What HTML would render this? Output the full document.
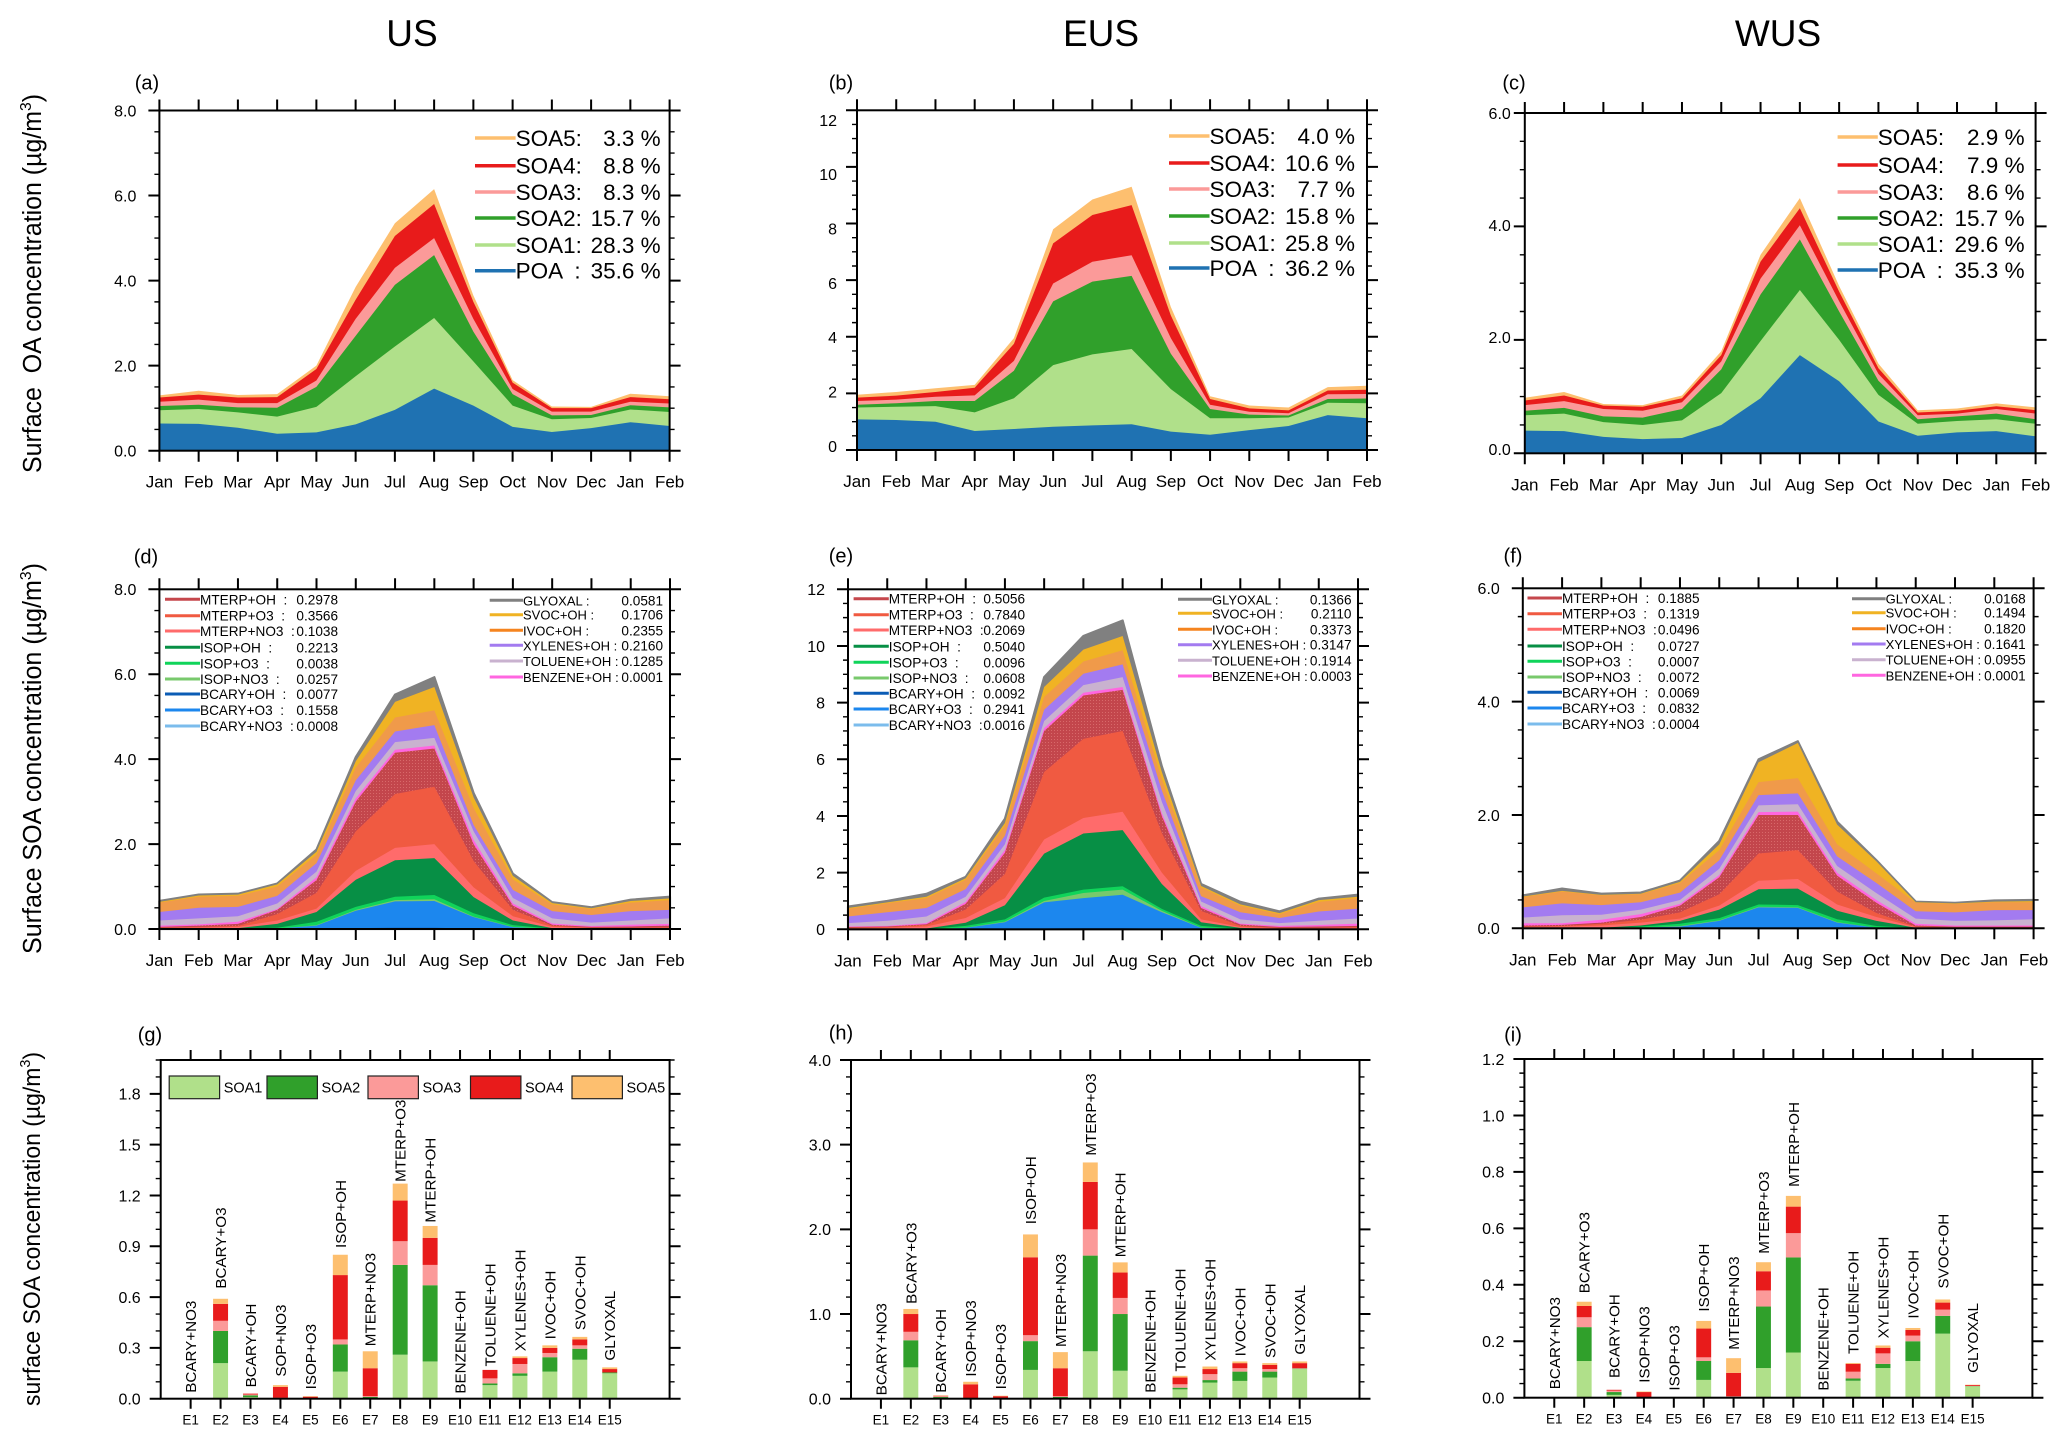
<!DOCTYPE html>
<html lang="en">
<head>
<meta charset="utf-8">
<title>Surface OA and SOA concentration by region</title>
<style>
html,body{margin:0;padding:0;background:#fff;}
svg{display:block;}
text{font-family:"Liberation Sans",Arial,sans-serif;fill:#000;white-space:pre;}
</style>
</head>
<body>
<svg id="figure" xmlns="http://www.w3.org/2000/svg" width="2067" height="1443" viewBox="0 0 2067 1443">
<defs>
<pattern id="mterp-oh-dots" width="3" height="3" patternUnits="userSpaceOnUse">
<rect x="0" y="0" width="3" height="3" fill="#c3464c"/>
<rect x="1" y="1" width="1" height="1" fill="#d8696a"/>
</pattern>
</defs>
<rect x="0" y="0" width="2067" height="1443" fill="#ffffff"/>
<text x="412" y="46" font-size="37" text-anchor="middle">US</text>
<text x="1101" y="46" font-size="37" text-anchor="middle">EUS</text>
<text x="1778" y="46" font-size="37" text-anchor="middle">WUS</text>
<text transform="translate(41,283.5) rotate(-90)" font-size="25.5" text-anchor="middle" textLength="379" lengthAdjust="spacingAndGlyphs">Surface  OA concentration (µg/m<tspan font-size="16" dy="-10">3</tspan><tspan dy="10">)</tspan></text>
<text transform="translate(41,758.5) rotate(-90)" font-size="25.5" text-anchor="middle" textLength="391" lengthAdjust="spacingAndGlyphs">Surface SOA concentration (µg/m<tspan font-size="16" dy="-10">3</tspan><tspan dy="10">)</tspan></text>
<text transform="translate(40,1229) rotate(-90)" font-size="24" text-anchor="middle" textLength="354" lengthAdjust="spacingAndGlyphs">surface SOA concentration (µg/m<tspan font-size="15" dy="-10">3</tspan><tspan dy="10">)</tspan></text>
</svg>
<script>
/* ---------- shared categories ---------- */
const months = ['Jan','Feb','Mar','Apr','May','Jun','Jul','Aug','Sep','Oct','Nov','Dec','Jan','Feb'];
const experiments = ['E1','E2','E3','E4','E5','E6','E7','E8','E9','E10','E11','E12','E13','E14','E15'];

/* ---------- tick labels ---------- */
const aYTicks = ['0.0','2.0','4.0','6.0','8.0'];
const bYTicks = ['0','2','4','6','8','10','12'];
const cYTicks = ['0.0','2.0','4.0','6.0'];
const dYTicks = ['0.0','2.0','4.0','6.0','8.0'];
const eYTicks = ['0','2','4','6','8','10','12'];
const fYTicks = ['0.0','2.0','4.0','6.0'];
const gYTicks = ['0.0','0.3','0.6','0.9','1.2','1.5','1.8'];
const hYTicks = ['0.0','1.0','2.0','3.0','4.0'];
const iYTicks = ['0.0','0.2','0.4','0.6','0.8','1.0','1.2'];

/* ---------- panels a-c: upper boundary of each stacked layer ---------- */
const aPOA  = [0.64,0.63,0.54,0.40,0.43,0.62,0.96,1.46,1.06,0.56,0.44,0.53,0.67,0.58];
const aSOA1 = [0.95,0.98,0.90,0.80,1.03,1.75,2.45,3.12,2.10,1.06,0.74,0.77,0.97,0.91];
const aSOA2 = [1.05,1.08,1.02,1.01,1.50,2.70,3.90,4.60,2.80,1.33,0.83,0.84,1.07,1.02];
const aSOA3 = [1.15,1.20,1.12,1.12,1.65,3.10,4.30,5.00,3.10,1.45,0.92,0.92,1.15,1.11];
const aSOA4 = [1.25,1.32,1.25,1.26,1.92,3.55,5.05,5.80,3.50,1.60,1.00,1.00,1.26,1.21];
const aSOA5 = [1.30,1.41,1.31,1.33,2.00,3.85,5.35,6.15,3.65,1.66,1.04,1.03,1.34,1.28];

const bPOA  = [1.08,1.06,1.00,0.67,0.74,0.82,0.87,0.91,0.65,0.54,0.70,0.85,1.23,1.12];
const bSOA1 = [1.50,1.53,1.55,1.33,1.83,3.00,3.38,3.57,2.15,1.12,1.12,1.15,1.67,1.65];
const bSOA2 = [1.60,1.65,1.73,1.73,2.80,5.25,5.95,6.15,3.40,1.45,1.25,1.22,1.80,1.82];
const bSOA3 = [1.73,1.78,1.88,1.93,3.15,5.88,6.65,6.88,3.95,1.60,1.35,1.30,1.97,1.98];
const bSOA4 = [1.85,1.92,2.05,2.20,3.75,7.30,8.30,8.65,4.75,1.80,1.47,1.40,2.10,2.13];
const bSOA5 = [1.95,2.05,2.18,2.30,3.95,7.80,8.85,9.30,5.05,1.90,1.57,1.50,2.22,2.27];

const cPOA  = [0.40,0.39,0.29,0.25,0.27,0.50,0.97,1.73,1.27,0.56,0.31,0.37,0.39,0.30];
const cSOA1 = [0.67,0.70,0.55,0.50,0.58,1.06,1.98,2.88,2.00,1.03,0.52,0.57,0.60,0.52];
const cSOA2 = [0.75,0.80,0.65,0.63,0.78,1.48,2.80,3.77,2.50,1.28,0.60,0.65,0.70,0.60];
const cSOA3 = [0.85,0.92,0.78,0.75,0.90,1.62,3.08,4.02,2.68,1.40,0.67,0.70,0.78,0.70];
const cSOA4 = [0.93,1.02,0.84,0.82,0.97,1.73,3.38,4.32,2.85,1.50,0.72,0.75,0.83,0.76];
const cSOA5 = [0.98,1.08,0.87,0.85,1.02,1.80,3.50,4.50,2.95,1.58,0.76,0.79,0.88,0.81];

/* ---------- legend text, panels a-c ---------- */
const oaLegendNames = ['SOA5:','SOA4:','SOA3:','SOA2:','SOA1:','POA  :'];
const aLegendPct = ['3.3','8.8','8.3','15.7','28.3','35.6'];
const bLegendPct = ['4.0','10.6','7.7','15.8','25.8','36.2'];
const cLegendPct = ['2.9','7.9','8.6','15.7','29.6','35.3'];

/* ---------- panels d-f: upper boundary of each stacked layer ---------- */
const dBcaryNo3 = [0,0,0,0,0,0,0,0,0,0,0,0,0,0];
const dBcaryOh  = [0,0,0,0.005,0.01,0.02,0.03,0.03,0.01,0.005,0,0,0,0];
const dBcaryO3  = [0,0,0,0.01,0.08,0.43,0.65,0.66,0.28,0.04,0,0,0,0];
const dIsopNo3  = [0,0,0,0.01,0.09,0.45,0.68,0.70,0.29,0.05,0,0,0,0];
const dIsopO3   = [0,0,0.005,0.03,0.17,0.52,0.76,0.80,0.37,0.09,0.01,0,0,0];
const dIsopOh   = [0,0.005,0.02,0.12,0.40,1.16,1.62,1.67,0.75,0.20,0.02,0.005,0.005,0.005];
const dMtNo3    = [0.02,0.03,0.05,0.20,0.48,1.37,1.91,2.00,0.98,0.30,0.05,0.02,0.02,0.02];
const dMtO3     = [0.03,0.05,0.07,0.35,0.85,2.30,3.18,3.35,1.60,0.45,0.08,0.03,0.03,0.04];
const dMtOh     = [0.05,0.08,0.12,0.45,1.15,3.00,4.15,4.25,2.00,0.55,0.10,0.05,0.06,0.08];
const dBenzene  = [0.08,0.11,0.17,0.47,1.22,3.08,4.22,4.32,2.10,0.60,0.13,0.07,0.10,0.12];
const dToluene  = [0.20,0.25,0.30,0.60,1.35,3.25,4.40,4.50,2.30,0.73,0.25,0.15,0.20,0.25];
const dXylenes  = [0.40,0.50,0.52,0.78,1.55,3.50,4.65,4.80,2.45,0.92,0.42,0.33,0.42,0.45];
const dIvoc     = [0.62,0.76,0.78,1.00,1.75,3.80,4.98,5.15,2.85,1.17,0.58,0.47,0.62,0.68];
const dSvoc     = [0.64,0.79,0.81,1.05,1.82,3.95,5.35,5.70,3.10,1.25,0.61,0.49,0.66,0.72];
const dGlyoxal  = [0.66,0.81,0.83,1.07,1.87,4.05,5.52,5.93,3.20,1.30,0.63,0.51,0.69,0.76];

const eBcaryNo3 = [0,0,0,0,0,0,0,0,0,0,0,0,0,0];
const eBcaryOh  = [0,0,0,0.005,0.01,0.03,0.04,0.04,0.02,0.005,0,0,0,0];
const eBcaryO3  = [0,0,0,0.05,0.25,0.95,1.10,1.22,0.60,0.05,0,0,0,0];
const eIsopNo3  = [0,0,0,0.06,0.27,1.00,1.28,1.40,0.65,0.06,0,0,0,0];
const eIsopO3   = [0,0,0.01,0.12,0.35,1.12,1.40,1.52,0.72,0.12,0.02,0,0,0];
const eIsopOh   = [0,0.01,0.03,0.23,0.85,2.67,3.38,3.50,1.60,0.25,0.05,0.01,0,0.01];
const eMtNo3    = [0.03,0.05,0.10,0.40,1.10,3.17,3.93,4.15,2.00,0.35,0.08,0.03,0.03,0.05];
const eMtO3     = [0.05,0.08,0.15,0.70,1.95,5.55,6.72,7.00,3.40,0.65,0.12,0.05,0.05,0.08];
const eMtOh     = [0.08,0.10,0.18,0.90,2.70,7.00,8.25,8.45,4.00,0.75,0.17,0.08,0.10,0.12];
const eBenzene  = [0.10,0.12,0.22,0.97,2.80,7.10,8.35,8.55,4.10,0.82,0.20,0.12,0.15,0.20];
const eToluene  = [0.22,0.30,0.45,1.15,3.00,7.35,8.62,8.90,4.50,0.98,0.35,0.22,0.30,0.38];
const eXylenes  = [0.45,0.60,0.75,1.42,3.30,7.75,9.02,9.35,4.90,1.17,0.60,0.40,0.63,0.73];
const eIvoc     = [0.72,0.92,1.10,1.75,3.65,8.20,9.45,9.85,5.30,1.48,0.83,0.53,0.97,1.10];
const eSvoc     = [0.75,0.95,1.15,1.80,3.75,8.55,9.87,10.35,5.55,1.53,0.88,0.57,1.03,1.15];
const eGlyoxal  = [0.80,1.00,1.25,1.85,3.90,8.90,10.35,10.90,5.75,1.60,0.97,0.63,1.08,1.22];

const fBcaryNo3 = [0,0,0,0,0,0,0,0,0,0,0,0,0,0];
const fBcaryOh  = [0,0,0,0.002,0.005,0.01,0.015,0.015,0.005,0.002,0,0,0,0];
const fBcaryO3  = [0,0,0,0.01,0.03,0.13,0.37,0.36,0.10,0.01,0,0,0,0];
const fIsopNo3  = [0,0,0,0.01,0.04,0.14,0.38,0.37,0.11,0.01,0,0,0,0];
const fIsopO3   = [0,0,0.005,0.03,0.08,0.18,0.42,0.41,0.16,0.04,0.005,0,0,0];
const fIsopOh   = [0,0.005,0.01,0.05,0.13,0.33,0.69,0.70,0.31,0.13,0.01,0,0,0];
const fMtNo3    = [0.02,0.03,0.05,0.10,0.17,0.40,0.84,0.87,0.42,0.20,0.02,0.01,0.01,0.01];
const fMtO3     = [0.03,0.04,0.08,0.15,0.28,0.60,1.32,1.38,0.65,0.27,0.03,0.02,0.02,0.02];
const fMtOh     = [0.05,0.06,0.10,0.20,0.40,0.90,2.00,2.00,0.93,0.45,0.05,0.03,0.03,0.03];
const fBenzene  = [0.09,0.09,0.15,0.25,0.43,0.94,2.05,2.06,0.98,0.50,0.08,0.05,0.05,0.05];
const fToluene  = [0.19,0.23,0.24,0.33,0.50,1.05,2.17,2.19,1.10,0.62,0.17,0.13,0.14,0.16];
const fXylenes  = [0.37,0.44,0.41,0.46,0.63,1.20,2.35,2.38,1.27,0.80,0.30,0.28,0.32,0.32];
const fIvoc     = [0.55,0.65,0.58,0.60,0.80,1.38,2.58,2.65,1.48,0.97,0.45,0.43,0.46,0.46];
const fSvoc     = [0.56,0.66,0.59,0.61,0.82,1.48,2.93,3.27,1.83,1.18,0.46,0.44,0.47,0.48];
const fGlyoxal  = [0.58,0.70,0.61,0.63,0.84,1.54,2.98,3.30,1.88,1.20,0.47,0.45,0.49,0.50];

/* ---------- legend text, panels d-f ---------- */
const soaLeftNames  = ['MTERP+OH  :','MTERP+O3  :','MTERP+NO3  :','ISOP+OH  :','ISOP+O3  :','ISOP+NO3  :','BCARY+OH  :','BCARY+O3  :','BCARY+NO3  :'];
const soaRightNames = ['GLYOXAL :','SVOC+OH :','IVOC+OH :','XYLENES+OH :','TOLUENE+OH :','BENZENE+OH :'];
const dLeftValues  = ['0.2978','0.3566','0.1038','0.2213','0.0038','0.0257','0.0077','0.1558','0.0008'];
const dRightValues = ['0.0581','0.1706','0.2355','0.2160','0.1285','0.0001'];
const eLeftValues  = ['0.5056','0.7840','0.2069','0.5040','0.0096','0.0608','0.0092','0.2941','0.0016'];
const eRightValues = ['0.1366','0.2110','0.3373','0.3147','0.1914','0.0003'];
const fLeftValues  = ['0.1885','0.1319','0.0496','0.0727','0.0007','0.0072','0.0069','0.0832','0.0004'];
const fRightValues = ['0.0168','0.1494','0.1820','0.1641','0.0955','0.0001'];

/* ---------- panels g-i: upper boundary of each stacked bar segment ---------- */
const gSOA1 = [0,0.21,0.01,0,0,0.16,0,0.26,0.22,0,0.08,0.135,0.16,0.23,0.15];
const gSOA2 = [0,0.40,0.02,0,0,0.32,0.01,0.79,0.67,0,0.09,0.15,0.245,0.295,0.155];
const gSOA3 = [0,0.46,0.025,0.005,0.002,0.35,0.015,0.93,0.79,0,0.12,0.205,0.27,0.315,0.155];
const gSOA4 = [0,0.56,0.03,0.07,0.012,0.73,0.18,1.17,0.95,0,0.17,0.24,0.30,0.35,0.175];
const gSOA5 = [0,0.59,0.03,0.08,0.015,0.85,0.28,1.27,1.02,0,0.17,0.25,0.315,0.365,0.185];

const hSOA1 = [0,0.37,0.01,0,0,0.34,0,0.56,0.33,0,0.11,0.19,0.21,0.25,0.35];
const hSOA2 = [0,0.69,0.02,0,0,0.68,0.02,1.69,1.00,0,0.13,0.22,0.32,0.32,0.355];
const hSOA3 = [0,0.79,0.03,0.005,0.005,0.75,0.03,2.00,1.19,0,0.17,0.29,0.36,0.35,0.36];
const hSOA4 = [0,1.00,0.035,0.17,0.03,1.67,0.36,2.56,1.49,0,0.25,0.35,0.42,0.40,0.42];
const hSOA5 = [0,1.06,0.04,0.20,0.035,1.94,0.55,2.79,1.61,0,0.27,0.38,0.44,0.42,0.44];

const iSOA1 = [0,0.13,0.01,0,0,0.063,0,0.105,0.16,0,0.06,0.105,0.13,0.227,0.04];
const iSOA2 = [0,0.25,0.02,0,0,0.13,0.003,0.323,0.497,0,0.068,0.12,0.20,0.29,0.041];
const iSOA3 = [0,0.285,0.025,0.002,0,0.143,0.005,0.38,0.583,0,0.092,0.157,0.22,0.312,0.042];
const iSOA4 = [0,0.325,0.028,0.02,0.001,0.245,0.088,0.448,0.677,0,0.12,0.177,0.24,0.337,0.045];
const iSOA5 = [0,0.34,0.028,0.022,0.002,0.272,0.14,0.48,0.715,0,0.123,0.185,0.247,0.348,0.046];

/* ---------- bar annotations: names and the axis value where each starts ---------- */
const gBarNames = ['BCARY+NO3','BCARY+O3','BCARY+OH','SOP+NO3','ISOP+O3','ISOP+OH','MTERP+NO3','MTERP+O3','MTERP+OH','BENZENE+OH','TOLUENE+OH','XYLENES+OH','IVOC+OH','SVOC+OH','GLYOXAL'];
const hBarNames = ['BCARY+NO3','BCARY+O3','BCARY+OH','ISOP+NO3','ISOP+O3','ISOP+OH','MTERP+NO3','MTERP+O3','MTERP+OH','BENZENE+OH','TOLUENE+OH','XYLENES+OH','IVOC+OH','SVOC+OH','GLYOXAL'];
const iBarNames = ['BCARY+NO3','BCARY+O3','BCARY+OH','ISOP+NO3','ISOP+O3','ISOP+OH','MTERP+NO3','MTERP+O3','MTERP+OH','BENZENE+OH','TOLUENE+OH','XYLENES+OH','IVOC+OH','SVOC+OH','GLYOXAL'];
const gNameBase = [0.035,0.65,0.067,0.13,0.055,0.89,0.31,1.28,1.04,0.03,0.19,0.28,0.35,0.405,0.225];
const hNameBase = [0.04,1.12,0.07,0.26,0.11,2.06,0.61,2.87,1.67,0.07,0.32,0.45,0.50,0.48,0.52];
const iNameBase = [0.03,0.37,0.07,0.053,0.025,0.305,0.17,0.51,0.747,0.025,0.155,0.21,0.28,0.387,0.088];

/* ---------- colours ---------- */
const OA_COL = {POA:'#1f72b2',SOA1:'#b0e08a',SOA2:'#30a02b',SOA3:'#fb9a99',SOA4:'#e81b1b',SOA5:'#fdbf6f'};
const SOA_COL = {
  'MTERP+OH':'#c5474c','MTERP+O3':'#f05a41','MTERP+NO3':'#ff6b6b','ISOP+OH':'#078f45','ISOP+O3':'#10d45a','ISOP+NO3':'#78c96c',
  'BCARY+OH':'#0b5cb5','BCARY+O3':'#1c87ee','BCARY+NO3':'#7bbcec','GLYOXAL':'#808080','SVOC+OH':'#f0b323','IVOC+OH':'#f09a4a',
  'XYLENES+OH':'#a37bf0','TOLUENE+OH':'#c9b2cf','BENZENE+OH':'#ff66e0'
};
const SOA_LINE_IVOC = '#f5841f';

const svg = document.getElementById('figure');
const NS = 'http://www.w3.org/2000/svg';

function mk(parent, tag, attrs, text) {
  const n = document.createElementNS(NS, tag);
  for (const k in attrs) n.setAttribute(k, attrs[k]);
  if (text !== undefined) n.textContent = text;
  parent.appendChild(n);
  return n;
}

/* axis functions */
function xMonth(p, i) { return p.left + i * (p.right - p.left) / (months.length - 1); }
function xCat(p, i) { return p.left + (i + 1) * (p.right - p.left) / 17; }
function yVal(p, v) { return p.bottom - v / p.ymax * (p.bottom - p.top); }

function drawAxes(g, p, xPositions, xLabels, xFont, xLabelOffset, tickLen) {
  let pathMajor = '';
  let pathMinor = '';
  const nMinor = Math.round(p.ymax / p.minor);
  const majorVals = p.yTicks.map(Number);
  for (let k = 0; k <= nMinor; k++) {
    const v = k * p.minor;
    const isMajor = majorVals.some(function (m) { return Math.abs(m - v) < 1e-6; });
    const y = yVal(p, v);
    const lenL = isMajor ? 11 : 5;
    const lenR = isMajor ? 11 : 5;
    const seg = 'M' + (p.left - lenL) + ' ' + y + 'H' + p.left + 'M' + p.right + ' ' + y + 'H' + (p.right + lenR);
    if (isMajor) pathMajor += seg; else pathMinor += seg;
  }
  xPositions.forEach(function (x) {
    pathMajor += 'M' + x + ' ' + (p.top - tickLen) + 'V' + p.top + 'M' + x + ' ' + p.bottom + 'V' + (p.bottom + tickLen);
  });
  const frame = mk(g, 'rect', {x: p.left, y: p.top, width: p.right - p.left, height: p.bottom - p.top, fill: 'none', stroke: '#000', 'stroke-width': 2});
  
  
  const major = mk(g, 'path', {d: pathMajor, fill: 'none', stroke: '#000', 'stroke-width': 2});
  
  
  const minor = mk(g, 'path', {d: pathMinor, fill: 'none', stroke: '#000', 'stroke-width': 1.4});
  
  

  xLabels.forEach(function (label, i) {
    const t = mk(g, 'text', {x: xPositions[i], y: p.bottom + xLabelOffset, 'font-size': xFont, 'text-anchor': 'middle'}, label);
    
    
  });
  p.yTicks.forEach(function (label, i) {
    let yPos = yVal(p, Number(label));
    if (p.labelSpan) {
      yPos = p.labelSpan[1] + (p.labelSpan[0] - p.labelSpan[1]) * i / (p.yTicks.length - 1);
    }
    const t = mk(g, 'text', {x: p.left - p.labelGap, y: yPos + 5.8, 'font-size': p.yFont || 16, 'text-anchor': 'end'}, label);
    
    
  });
  const tag = mk(g, 'text', {x: p.tagX, y: p.tagY + 6.5, 'font-size': 20, 'text-anchor': 'middle'}, '(' + p.id + ')');
  
  
}

function drawAreas(g, p, layers) {
  /* layers run bottom to top; painted top first so lower layers overlay them */
  for (let s = layers.length - 1; s >= 0; s--) {
    const layer = layers[s];
    let pts = xMonth(p, 0) + ',' + yVal(p, 0);
    layer.values.forEach(function (v, i) { pts += ' ' + xMonth(p, i) + ',' + yVal(p, v); });
    pts += ' ' + xMonth(p, months.length - 1) + ',' + yVal(p, 0);
    const poly = mk(g, 'polygon', {points: pts, fill: layer.color});
    if (layer.stroke) {
      poly.setAttribute('stroke', layer.stroke);
      poly.setAttribute('stroke-width', 2.2);
      poly.setAttribute('stroke-linejoin', 'round');
    }
    
    
  }
}

function monthPanel(p, layers) {
  const g = mk(svg, 'g', {});
  
  
  drawAreas(g, p, layers);
  const xs = months.map(function (m, i) { return xMonth(p, i); });
  drawAxes(g, p, xs, months, 17, 37, 11);
  return g;
}

function oaLegend(g, p, pct) {
  const keys = ['SOA5','SOA4','SOA3','SOA2','SOA1','POA'];
  keys.forEach(function (key, i) {
    const y = p.legend.rows[i];
    const line = mk(g, 'line', {x1: p.legend.x0, x2: p.legend.x1, y1: y, y2: y, stroke: OA_COL[key], 'stroke-width': 3.5});
    
    
    const name = mk(g, 'text', {x: p.legend.x1, y: y + 8, 'font-size': 22.5}, oaLegendNames[i]);
    
    
    const val = mk(g, 'text', {x: p.legend.end, y: y + 8, 'font-size': 22.5, 'text-anchor': 'end'}, pct[i] + ' %');
    
    
  });
}

function soaLegend(g, spec, names, values) {
  names.forEach(function (label, i) {
    const key = label.replace(/ +:/, '');
    const y = spec.rows[i];
    const line = mk(g, 'line', {x1: spec.x0, x2: spec.x1, y1: y, y2: y, stroke: key === 'IVOC+OH' ? SOA_LINE_IVOC : SOA_COL[key], 'stroke-width': 3});
    
    
    const name = mk(g, 'text', {x: spec.x1, y: y + 5, 'font-size': spec.font}, label);
    
    
    const val = mk(g, 'text', {x: spec.end, y: y + 5, 'font-size': 13.6, 'text-anchor': 'end'}, values[i]);
    
    
  });
}

function barPanel(p, series, barNames, nameBase) {
  const g = mk(svg, 'g', {});
  
  
  const step = (p.right - p.left) / 17;
  const w = step * 0.5;
  const keys = ['SOA1','SOA2','SOA3','SOA4','SOA5'];
  experiments.forEach(function (e, i) {
    let prev = 0;
    series.forEach(function (arr, s) {
      const top = arr[i];
      if (top > prev) {
        const r = mk(g, 'rect', {x: xCat(p, i) - w / 2, y: yVal(p, top), width: w, height: yVal(p, prev) - yVal(p, top), fill: OA_COL[keys[s]]});
        
        
        prev = top;
      }
    });
    const bx = xCat(p, i) + 5.5;
    const by = yVal(p, nameBase[i]);
    const t = mk(g, 'text', {transform: 'translate(' + bx + ',' + by + ') rotate(-90)', 'font-size': 15.2}, barNames[i]);
    
    
  });
  const xs = experiments.map(function (e, i) { return xCat(p, i); });
  drawAxes(g, p, xs, experiments, 13.5, 26, 10);
  return g;
}

function soaLayers(a) {
  const names = ['BCARY+NO3','BCARY+OH','BCARY+O3','ISOP+NO3','ISOP+O3','ISOP+OH','MTERP+NO3','MTERP+O3','MTERP+OH','BENZENE+OH','TOLUENE+OH','XYLENES+OH','IVOC+OH','SVOC+OH','GLYOXAL'];
  return names.map(function (n, i) {
    return {name: n, values: a[i], color: n === 'MTERP+OH' ? 'url(#mterp-oh-dots)' : SOA_COL[n], stroke: n === 'GLYOXAL' ? SOA_COL[n] : null};
  });
}
function oaLayers(a) {
  const names = ['POA','SOA1','SOA2','SOA3','SOA4','SOA5'];
  return names.map(function (n, i) { return {name: n, values: a[i], color: OA_COL[n]}; });
}

/* ---------- panel layouts ---------- */
const gA = monthPanel({id:'a',left:159.4,right:669.6,top:110.5,bottom:450.7,ymax:8,minor:0.5,yTicks:aYTicks,labelGap:23,tagX:147,tagY:83}, oaLayers([aPOA,aSOA1,aSOA2,aSOA3,aSOA4,aSOA5]));
oaLegend(gA, {legend:{x0:475,x1:515.6,end:660.7,rows:[138,165.7,192,218,245,270.7]}}, aLegendPct);

const gB = monthPanel({id:'b',left:857,right:1367,top:110.3,bottom:450,ymax:12,minor:0.5,yTicks:bYTicks,labelGap:20,labelSpan:[120,446],tagX:841,tagY:83}, oaLayers([bPOA,bSOA1,bSOA2,bSOA3,bSOA4,bSOA5]));
oaLegend(gB, {legend:{x0:1169,x1:1209.5,end:1355,rows:[136,163,189,216,243,268]}}, bLegendPct);

const gC = monthPanel({id:'c',left:1524.8,right:2035.6,top:113,bottom:453.3,ymax:6,minor:0.5,yTicks:cYTicks,labelGap:14,labelSpan:[113.3,449],tagX:1514,tagY:83}, oaLayers([cPOA,cSOA1,cSOA2,cSOA3,cSOA4,cSOA5]));
oaLegend(gC, {legend:{x0:1837.6,x1:1877.8,end:2024.6,rows:[137,165,192,218,244,270]}}, cLegendPct);

const gD = monthPanel({id:'d',left:159.4,right:670,top:589.3,bottom:929,ymax:8,minor:0.5,yTicks:dYTicks,labelGap:23,tagX:146,tagY:557}, soaLayers([dBcaryNo3,dBcaryOh,dBcaryO3,dIsopNo3,dIsopO3,dIsopOh,dMtNo3,dMtO3,dMtOh,dBenzene,dToluene,dXylenes,dIvoc,dSvoc,dGlyoxal]));
soaLegend(gD, {x0:165,x1:200,end:338,font:13.6,rows:[599.3,615.7,631,647.3,663.3,679,694,710,726]}, soaLeftNames, dLeftValues);
soaLegend(gD, {x0:489.7,x1:523,end:663,font:13,rows:[600.3,614.7,630.3,645.3,661,677]}, soaRightNames, dRightValues);

const gE = monthPanel({id:'e',left:848,right:1358,top:589.3,bottom:929.3,ymax:12,minor:0.5,yTicks:eYTicks,labelGap:23,tagX:841,tagY:556}, soaLayers([eBcaryNo3,eBcaryOh,eBcaryO3,eIsopNo3,eIsopO3,eIsopOh,eMtNo3,eMtO3,eMtOh,eBenzene,eToluene,eXylenes,eIvoc,eSvoc,eGlyoxal]));
soaLegend(gE, {x0:853.6,x1:888.8,end:1025,font:13.6,rows:[598.7,614.7,630,646.3,662.3,678,693.3,709,725]}, soaLeftNames, eLeftValues);
soaLegend(gE, {x0:1178,x1:1212,end:1351.5,font:13,rows:[599.3,613.3,629.3,644.7,660.3,676]}, soaRightNames, eRightValues);

const gF = monthPanel({id:'f',left:1522.8,right:2033.6,top:588.3,bottom:928.3,ymax:6,minor:0.5,yTicks:fYTicks,labelGap:23,tagX:1513,tagY:556}, soaLayers([fBcaryNo3,fBcaryOh,fBcaryO3,fIsopNo3,fIsopO3,fIsopOh,fMtNo3,fMtO3,fMtOh,fBenzene,fToluene,fXylenes,fIvoc,fSvoc,fGlyoxal]));
soaLegend(gF, {x0:1527.5,x1:1562,end:1699.5,font:13.6,rows:[598,613.7,629.3,646,661.3,677,692.3,708,724]}, soaLeftNames, fLeftValues);
soaLegend(gF, {x0:1852,x1:1885.6,end:2025.7,font:13,rows:[598.7,612.7,628.7,644,659.7,675.3]}, soaRightNames, fRightValues);

const gG = barPanel({id:'g',left:160.7,right:669.6,top:1060,bottom:1398.7,ymax:2,minor:0.1,yTicks:gYTicks,labelGap:20,tagX:150,tagY:1035}, [gSOA1,gSOA2,gSOA3,gSOA4,gSOA5], gBarNames, gNameBase);
barPanel({id:'h',left:851,right:1359.5,top:1060,bottom:1398.7,ymax:4,minor:0.2,yTicks:hYTicks,labelGap:20,tagX:841,tagY:1033}, [hSOA1,hSOA2,hSOA3,hSOA4,hSOA5], hBarNames, hNameBase);
barPanel({id:'i',left:1524.4,right:2032.4,top:1059,bottom:1397.7,ymax:1.2,minor:0.05,yTicks:iYTicks,labelGap:20,tagX:1513,tagY:1035}, [iSOA1,iSOA2,iSOA3,iSOA4,iSOA5], iBarNames, iNameBase);

/* ---------- bar legend in panel g ---------- */
const barLegendKeys = ['SOA1','SOA2','SOA3','SOA4','SOA5'];
const barLegendBoxLeft = [169.2,267,368,470.5,572];
barLegendKeys.forEach(function (key, i) {
  const box = mk(gG, 'rect', {x: barLegendBoxLeft[i], y: 1076, width: 50.4, height: 22.7, fill: OA_COL[key], stroke: '#222', 'stroke-width': 1.2});
  
  
  const t = mk(gG, 'text', {x: barLegendBoxLeft[i] + 54.5, y: 1092.5, 'font-size': 14.5}, key);
  
  
});
</script>
</body>
</html>
